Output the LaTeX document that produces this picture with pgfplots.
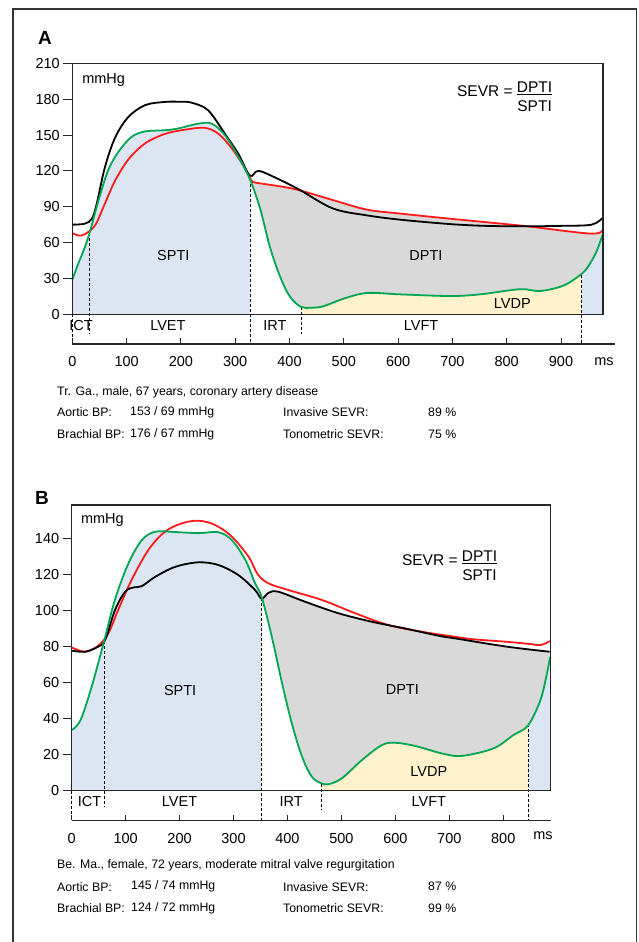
\documentclass[border=0pt]{standalone}
\usepackage{pgfplots}
\usepackage{pgfplotstable}
\pgfplotsset{compat=1.18}
\usepackage{fontspec}
\setmainfont{Liberation Sans}
\definecolor{lvgreen}{HTML}{00A651}
\definecolor{aored}{HTML}{FF1A1A}
\definecolor{sptiblue}{HTML}{DCE6F2}
\definecolor{dptigray}{HTML}{D9D9D9}
\definecolor{lvdpyellow}{HTML}{FFF2CC}
\newcommand\fs{\fontsize{14.5pt}{17pt}\selectfont}
\newcommand\finfo{\fontsize{12.3pt}{15pt}\selectfont}
\newcommand\sevr{SEVR = \raisebox{4pt}{\begin{tabular}[t]{@{}c@{}}\underline{DPTI}\\[1pt]SPTI\end{tabular}}}

% panel A: aortic (red), brachial (black), LV (green) pressure, mmHg vs ms
\pgfplotstableread{
t p
0 68
11 66
23 67
42 74.5
60 92.6
79 112
104 130
134 143
171 151
208 154.5
244 156
269 151
294 138.6
318 122
330 112
340 110
407 105
481 95.4
542 87.6
603 84.3
695 80
830 74
956 67.5
977 71.7
}\redA
\pgfplotstableread{
t p
0 75
23 75.8
36 80
45 92.6
60 123
79 148
103 165
134 175
171 177.7
200 177.8
220 177
250 170.7
281 151
306 134
327 116
343 120
380 113
419 104
480 88.5
542 82.8
603 79.2
695 75.5
760 74
830 73.6
900 74
956 75
977 81
}\blackA
\pgfplotstableread{
t p
0 29
11 42.4
23 56
33 70
48 95
66 120.5
85 136
109 148.4
134 153
171 154
195 155.5
232 159.5
257 159.5
281 149.8
306 131.6
327 113
346 88
364 56
383 31
401 14.5
421 6.2
440 5.5
462 6.7
499 13
542 17.8
603 16.7
695 15.3
751 16.7
824 21
861 19.5
904 24
938 34
953 42.4
966 53.6
977 67.5
}\greenA
% panel B
\pgfplotstableread{
t p
0 79.5
25 77.1
49 80.4
68 87.3
86 100.2
111 116.9
142 133.5
173 143.7
204 148.3
235 149.8
266 147.4
297 140.9
328 129.8
345 120
365 115
402 111.3
464 105.8
526 98.4
587 91.9
649 88.2
711 85.4
745 84
807 82.6
850 81.4
869 80.8
887 83
}\redB
\pgfplotstableread{
t p
0 77.7
25 77.1
49 79.9
62 83.6
80 100
99 110.4
115 112.8
130 113.5
155 118.7
192 124.2
235 126.7
272 125.2
309 119.6
340 111.3
352 106.5
365 109.8
383 110.4
433 104.8
495 98.4
557 93.7
618 90
683 85.8
711 84.5
807 79.9
886 77.1
}\blackB
\pgfplotstableread{
t p
0 33.7
8 35.5
19 41
37 57.7
59 81.7
80 105.8
105 126
130 139
155 143.7
192 143.5
235 142.9
272 143.4
297 139
322 128
340 115
352 107.6
371 85.4
390 59.6
408 37.4
427 18.9
445 7.8
462 4.2
476 3.6
501 6.9
538 17
575 25.3
600 26.6
637 24.8
686 20.7
723 19.3
782 23.5
819 30.9
846 36.2
869 50.3
881 65
887 74.3
}\greenB

\pgfplotsset{
  panel/.style={scale only axis, xtick=\empty, ytick pos=left,
    tick align=outside,
    major tick length=9pt, ytick style={line width=1pt, black!85},
    yticklabel style={font=\fs},
    axis line style={line width=1.1pt, black!85},
    clip=false, axis on top,
    /pgf/number format/assume math mode=true},
  timeaxis/.style={scale only axis, height=10pt, ymin=0, ymax=1,
    axis x line*=bottom, hide y axis,
    major tick length=0pt,
    xticklabel style={font=\fs, yshift=-9pt},
    axis line style={line width=1.1pt, black!85},
    /pgf/number format/assume math mode=true},
  curve/.style={line width=1.8pt, smooth, tension=0.55},
  area/.style={draw=none, smooth, tension=0.55, fill=#1},
}
\tikzset{phase/.style={densely dashed, line width=0.7pt},
  tmark/.style={line width=1.1pt, black!85},
  lbl/.style={font=\fs},
  info/.style={font=\finfo, anchor=west, inner sep=0pt}}

\begin{document}
\begin{tikzpicture}
\useasboundingbox (0,0) rectangle (638pt,-942pt);
\draw[line width=1.8pt, black!80] (12.7pt,-960pt) -- (12.7pt,-9.3pt) -- (636.5pt,-9.3pt) -- (636.5pt,-960pt);

% ---------------- panel A ----------------
\node[font=\fontsize{19pt}{22pt}\selectfont\bfseries] at (45pt,-38pt) {A};
\begin{axis}[panel, at={(72.3pt,-314.3pt)}, anchor=south west,
    width=530.7pt, height=251pt,
    xmin=0, xmax=977, ymin=0, ymax=210, ytick={0,30,...,210}]
  % areas: DPTI under aortic curve, then LV-curve areas on top
  \addplot[area=dptigray, restrict x to domain=318:977] table[x=t,y=p] {\redA} \closedcycle;
  \addplot[area=white, restrict x to domain=327:421] table[x=t,y=p] {\greenA} \closedcycle;
  \addplot[area=lvdpyellow, restrict x to domain=421:938] table[x=t,y=p] {\greenA} \closedcycle;
  \addplot[area=sptiblue, restrict x to domain=938:977] table[x=t,y=p] {\greenA} \closedcycle;
  \addplot[area=sptiblue, restrict x to domain=0:327] table[x=t,y=p] {\greenA} \closedcycle;
  \draw[phase] (axis cs:0,0) -- (axis cs:0,-24.3);
  \draw[phase] (axis cs:31,68) -- (axis cs:31,-15.9);
  \draw[phase] (axis cs:327,113) -- (axis cs:327,-24.3);
  \draw[phase] (axis cs:421,6) -- (axis cs:421,-16.7);
  \draw[phase] (axis cs:938,33) -- (axis cs:938,-24.3);
  \foreach \k in {0,100,...,900} {
    \edef\tmp{\noexpand\draw[tmark] (axis cs:\k,-24.85) -- (axis cs:\k,-19.8);}\tmp
  }
  \addplot[curve, draw=aored] table[x=t,y=p] {\redA};
  \addplot[curve, draw=black] table[x=t,y=p] {\blackA};
  \addplot[curve, draw=lvgreen] table[x=t,y=p] {\greenA};
  \node[lbl] at (axis cs:16,-9.2) {ICT};
  \node[lbl] at (axis cs:176,-9.2) {LVET};
  \node[lbl] at (axis cs:373,-9.2) {IRT};
  \node[lbl] at (axis cs:642,-9.2) {LVFT};
  \node[lbl] at (axis cs:186,49.4) {SPTI};
  \node[lbl] at (axis cs:651,49.4) {DPTI};
  \node[lbl] at (axis cs:810,9) {LVDP};
  \node[lbl, anchor=west, inner sep=0pt] at (axis cs:18,196) {mmHg};
  \node[font=\fontsize{15.5pt}{18pt}\selectfont, anchor=base west, inner sep=0pt] at (axis cs:708,182) {\sevr};
\end{axis}
\begin{axis}[timeaxis, at={(72.3pt,-344pt)}, anchor=south west,
    width=543pt, xmin=0, xmax=1000, xtick={0,100,...,900}]
  \addplot[draw=none] coordinates {(0,0) (1000,1)};
\end{axis}
\node[lbl] at (604pt,-362pt) {ms};
\node[info] at (57pt,-392.5pt) {Tr. Ga., male, 67 years, coronary artery disease};
\node[info] at (57pt,-412.5pt) {Aortic BP:};
\node[info] at (130pt,-412.5pt) {153 / 69 mmHg};
\node[info] at (283pt,-412.5pt) {Invasive SEVR:};
\node[info] at (428pt,-412.5pt) {89 \%};
\node[info] at (57pt,-434pt) {Brachial BP:};
\node[info] at (130pt,-434pt) {176 / 67 mmHg};
\node[info] at (283pt,-434pt) {Tonometric SEVR:};
\node[info] at (428pt,-434pt) {75 \%};

% ---------------- panel B ----------------
\node[font=\fontsize{19pt}{22pt}\selectfont\bfseries] at (42pt,-498pt) {B};
\begin{axis}[panel, at={(71.7pt,-790.7pt)}, anchor=south west,
    width=479pt, height=285.7pt,
    xmin=0, xmax=888, ymin=0, ymax=158.5, ytick={0,20,...,140}]
  \addplot[area=dptigray, restrict x to domain=352:886] table[x=t,y=p] {\blackB} \closedcycle;
  \addplot[area=white, restrict x to domain=352:462] table[x=t,y=p] {\greenB} \closedcycle;
  \addplot[area=lvdpyellow, restrict x to domain=462:846] table[x=t,y=p] {\greenB} \closedcycle;
  \addplot[area=sptiblue, restrict x to domain=846:887] table[x=t,y=p] {\greenB} \closedcycle;
  \addplot[area=sptiblue, restrict x to domain=0:352] table[x=t,y=p] {\greenB} \closedcycle;
  \draw[phase] (axis cs:0,0) -- (axis cs:0,-16.5);
  \draw[phase] (axis cs:60.5,83) -- (axis cs:60.5,-8.9);
  \draw[phase] (axis cs:352,107) -- (axis cs:352,-16.5);
  \draw[phase] (axis cs:462,4) -- (axis cs:462,-10.7);
  \draw[phase] (axis cs:846,37) -- (axis cs:846,-16.5);
  \foreach \k in {0,100,...,800} {
    \edef\tmp{\noexpand\draw[tmark] (axis cs:\k,-16.5) -- (axis cs:\k,-13.2);}\tmp
  }
  \addplot[curve, draw=aored] table[x=t,y=p] {\redB};
  \addplot[curve, draw=black] table[x=t,y=p] {\blackB};
  \addplot[curve, draw=lvgreen] table[x=t,y=p] {\greenB};
  \node[lbl] at (axis cs:33,-6.1) {ICT};
  \node[lbl] at (axis cs:200,-6.1) {LVET};
  \node[lbl] at (axis cs:407,-6.1) {IRT};
  \node[lbl] at (axis cs:662,-6.1) {LVFT};
  \node[lbl] at (axis cs:201,55.8) {SPTI};
  \node[lbl] at (axis cs:613,56.4) {DPTI};
  \node[lbl] at (axis cs:662,10.5) {LVDP};
  \node[lbl, anchor=west, inner sep=0pt] at (axis cs:17,150) {mmHg};
  \node[font=\fontsize{15.5pt}{18pt}\selectfont, anchor=base west, inner sep=0pt] at (axis cs:612,125) {\sevr};
\end{axis}
\begin{axis}[timeaxis, at={(71.7pt,-820.5pt)}, anchor=south west,
    width=479pt, xmin=0, xmax=888, xtick={0,100,...,800}]
  \addplot[draw=none] coordinates {(0,0) (888,1)};
\end{axis}
\node[lbl] at (543pt,-836pt) {ms};
\node[info] at (57pt,-865.7pt) {Be. Ma., female, 72 years, moderate mitral valve regurgitation};
\node[info] at (57pt,-886.7pt) {Aortic BP:};
\node[info] at (131pt,-886.7pt) {145 / 74 mmHg};
\node[info] at (283pt,-886.7pt) {Invasive SEVR:};
\node[info] at (428pt,-886.7pt) {87 \%};
\node[info] at (57pt,-908pt) {Brachial BP:};
\node[info] at (131pt,-908pt) {124 / 72 mmHg};
\node[info] at (283pt,-908pt) {Tonometric SEVR:};
\node[info] at (428pt,-908pt) {99 \%};
\end{tikzpicture}
\end{document}
